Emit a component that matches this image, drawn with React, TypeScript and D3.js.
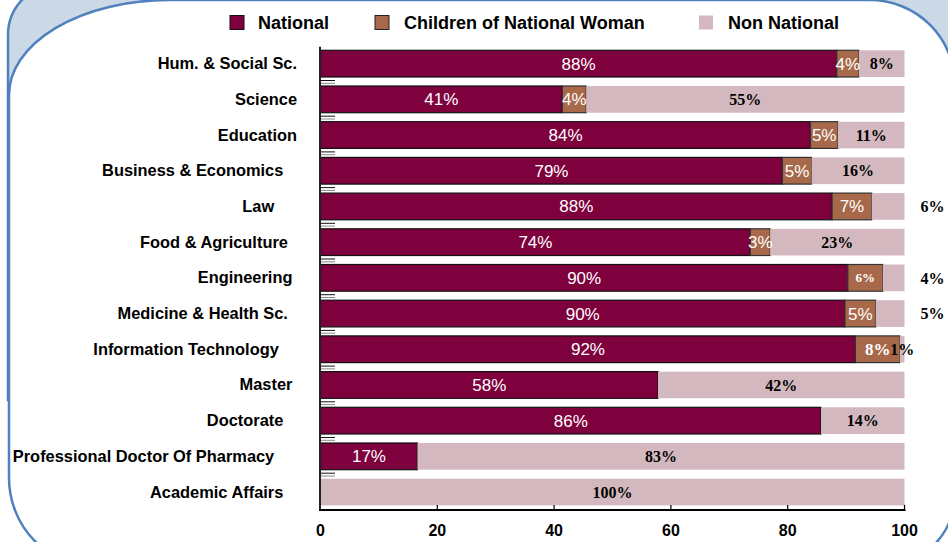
import React from "react";
import * as d3 from "d3";

// ---------- data ----------
const categories = [
  "Hum. & Social Sc.",
  "Science",
  "Education",
  "Business & Economics   ",
  "Law     ",
  "Food & Agriculture  ",
  "Engineering ",
  "Medicine & Health Sc.  ",
  "Information Technology    ",
  "Master ",
  "Doctorate   ",
  "Professional Doctor Of Pharmacy     ",
  "Academic Affairs   ",
];
const national = [88.4, 41.4, 83.9, 79.1, 87.6, 73.6, 90.3, 89.8, 91.6, 57.8, 85.7, 16.6, 0];
const childrenNW = [3.8, 4.1, 4.7, 5.0, 6.8, 3.4, 6.0, 5.3, 7.6, 0, 0, 0, 0];
const nonNational = [7.8, 54.5, 11.4, 15.9, 5.6, 23.0, 3.7, 4.9, 0.8, 42.2, 14.3, 83.4, 100];
const seriesNames = ["National", "Children of National Woman", "Non National"];
const xTicks = [0, 20, 40, 60, 80, 100];
// categories whose Non National label sits outside, right of the plot
const outsideNonLabel = ["Law", "Engineering", "Medicine & Health Sc."];

// ---------- style ----------
const C_NAT = "#7e003d";
const C_CHI = "#a8694b";
const C_NON = "#d3b8bf";
const BLUE = "#4f81bd";
const LIGHT = "#cbd9e7";
const SANS = "'Liberation Sans', Arial, sans-serif";
const SERIF = "'Liberation Serif', 'Times New Roman', serif";

export default function App() {
  const W = 948, H = 542;
  const x = d3.scaleLinear().domain([0, 100]).range([320.5, 904.5]);
  const y = d3
    .scaleBand<string>()
    .domain(categories)
    .range([45.8, 509.9])
    .paddingInner(0.252)
    .paddingOuter(0.126);
  const bw = y.bandwidth();
  const step = y.step();

  const rows = categories.map((c, i) => ({
    cat: c,
    national: national[i],
    children: childrenNW[i],
    non: nonNational[i],
  }));
  const keys = ["national", "children", "non"];
  const stacked = d3.stack<any>().keys(keys)(rows);
  const fills = [C_NAT, C_CHI, C_NON];
  const strokes = ["#111", "#333", "none"];

  const fmt = (v: number) => `${Math.round(v)}%`;

  // frame geometry
  const L = 9, T = 0, R = 955, B = 568;
  const whitePath = `M ${L + 160} ${T} L ${R - 85} ${T} A 85 85 0 0 1 ${R} ${T + 85} L ${R} ${B - 75} A 75 75 0 0 1 ${R - 75} ${B} L ${L + 90} ${B} A 90 90 0 0 1 ${L} ${B - 90} L ${L} ${T + 95} A 160 95 0 0 1 ${L + 160} ${T} Z`;
  const outerPath = `M 8 400 L 8 35 A 51 51 0 0 1 59 -16 L 1000 -16 L 1000 400 Z`;

  const legendItems = [
    { name: seriesNames[0], sx: 230, tx: 258, fill: C_NAT, stroke: "#111" },
    { name: seriesNames[1], sx: 375, tx: 404, fill: C_CHI, stroke: "#222" },
    { name: seriesNames[2], sx: 699, tx: 728, fill: C_NON, stroke: "none" },
  ];

  const y0 = y(categories[0])! - (step - bw) / 2;
  const yEnd = y(categories[categories.length - 1])! + bw + (step - bw) / 2;

  return (
    <svg
      width={W}
      height={H}
      viewBox={`0 0 ${W} ${H}`}
      style={{ position: "fixed", left: 0, top: 0, display: "block", background: "#fff" }}
    >
      <path d={outerPath} fill={LIGHT} stroke={BLUE} strokeWidth={2.5} />
      <path d={whitePath} fill="#fff" stroke={BLUE} strokeWidth={2.5} />

      {/* legend */}
      {legendItems.map((d) => (
        <g key={d.name}>
          <rect x={d.sx} y={15.5} width={14} height={14} fill={d.fill} stroke={d.stroke} strokeWidth={1} />
          <text x={d.tx} y={28.5} fontFamily={SANS} fontWeight="bold" fontSize={18} fill="#000">
            {d.name}
          </text>
        </g>
      ))}

      {/* category labels */}
      {categories.map((c) => (
        <text
          key={"cl" + c}
          x={297}
          y={y(c)! + bw / 2 + 5.5}
          textAnchor="end"
          fontFamily={SANS}
          fontWeight="bold"
          fontSize={16.4}
          style={{ whiteSpace: "pre" }}
          fill="#000"
        >
          {c}
        </text>
      ))}

      {/* bars */}
      {stacked.map((s, si) =>
        s.map((d, i) => {
          const w = x(d[1]) - x(d[0]);
          if (w <= 0) return null;
          return (
            <rect
              key={`b${si}-${i}`}
              x={x(d[0])}
              y={y(categories[i])!}
              width={w}
              height={bw}
              fill={fills[si]}
              stroke={strokes[si]}
              strokeWidth={si === 2 ? 0 : 1.2}
            />
          );
        })
      )}

      {/* category tick marks between rows */}
      {categories.slice(1).map((c) => {
        const yb = y(c)! - (step - bw) / 2;
        return (
          <g key={"tk" + c}>
            <line x1={320} x2={335} y1={yb - 1} y2={yb - 1} stroke="#111" strokeWidth={1} />
            <line x1={320} x2={335} y1={yb + 1.8} y2={yb + 1.8} stroke="#888" strokeWidth={1} />
          </g>
        );
      })}

      {/* value labels */}
      {stacked.map((s, si) =>
        s.map((d, i) => {
          const v = d[1] - d[0];
          if (v <= 0) return null;
          const cat = categories[i].trim();
          const cy = y(categories[i])! + bw / 2;
          let cx = (x(d[0]) + x(d[1])) / 2;
          if (si === 0) {
            return (
              <text key={`v${si}-${i}`} x={cx} y={cy + 6} textAnchor="middle" fontFamily={SANS} fontSize={17} fill="#fff">
                {fmt(v)}
              </text>
            );
          }
          if (si === 1) {
            const serif = cat === "Engineering" || cat === "Information Technology";
            return (
              <text
                key={`v${si}-${i}`}
                x={cx}
                y={cy + (cat === "Engineering" ? 4.5 : 6)}
                textAnchor="middle"
                fontFamily={serif ? SERIF : SANS}
                fontWeight={serif ? "bold" : "normal"}
                fontSize={cat === "Engineering" ? 13 : 17}
                fill="#fff"
              >
                {fmt(v)}
              </text>
            );
          }
          if (outsideNonLabel.includes(cat)) cx = x(100) + 28;
          return (
            <text key={`v${si}-${i}`} x={cx} y={cy + 5.7} textAnchor="middle" fontFamily={SERIF} fontWeight="bold" fontSize={16} fill="#000">
              {fmt(v)}
            </text>
          );
        })
      )}

      {/* axes */}
      <line x1={320} x2={320} y1={y0 + 1} y2={yEnd} stroke="#222" strokeWidth={2} />
      <line x1={319} x2={905.5} y1={yEnd} y2={yEnd} stroke="#000" strokeWidth={2} />
      {xTicks.slice(1).map((t) => (
        <line key={"xt" + t} x1={x(t)} x2={x(t)} y1={yEnd} y2={yEnd - 5} stroke="#000" strokeWidth={1.2} />
      ))}
      {xTicks.map((t) => (
        <text key={"xl" + t} x={x(t)} y={536} textAnchor="middle" fontFamily={SANS} fontWeight="bold" fontSize={16} fill="#000">
          {t}
        </text>
      ))}
    </svg>
  );
}
